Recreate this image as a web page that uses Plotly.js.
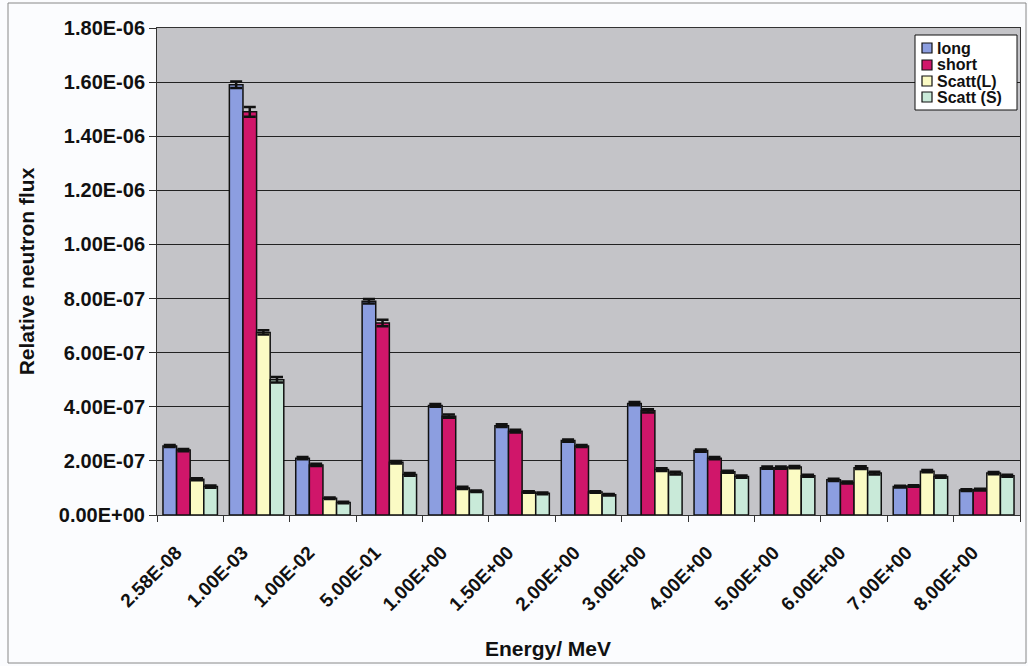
<!DOCTYPE html>
<html>
<head>
<meta charset="utf-8">
<script src="https://cdn.plot.ly/plotly-3.0.1.min.js"></script>
<style>
  html, body { margin: 0; padding: 0; background: #ffffff; }
  #chart { width: 1028px; height: 666px; }
</style>
</head>
<body>
<div id="chart"></div>
<script>
// Energy bins (MeV) used as categories
const energies = ["2.58E-08", "1.00E-03", "1.00E-02", "5.00E-01", "1.00E+00", "1.50E+00", "2.00E+00",
                  "3.00E+00", "4.00E+00", "5.00E+00", "6.00E+00", "7.00E+00", "8.00E+00"];

// Relative neutron flux per bin
const longFlux   = [2.55e-7, 1.59e-6, 2.10e-7, 7.90e-7, 4.05e-7, 3.30e-7, 2.75e-7, 4.12e-7, 2.38e-7, 1.75e-7, 1.30e-7, 1.05e-7, 0.92e-7];
const shortFlux  = [2.40e-7, 1.49e-6, 1.85e-7, 7.10e-7, 3.65e-7, 3.10e-7, 2.55e-7, 3.85e-7, 2.10e-7, 1.75e-7, 1.20e-7, 1.07e-7, 0.94e-7];
const scattLFlux = [1.32e-7, 6.75e-7, 6.2e-8, 1.95e-7, 1.00e-7, 8.5e-8, 8.5e-8, 1.68e-7, 1.60e-7, 1.77e-7, 1.75e-7, 1.62e-7, 1.55e-7];
const scattSFlux = [1.05e-7, 5.00e-7, 4.6e-8, 1.50e-7, 8.8e-8, 8.0e-8, 7.5e-8, 1.55e-7, 1.42e-7, 1.45e-7, 1.55e-7, 1.42e-7, 1.45e-7];

// Statistical uncertainties
const longErr   = [4e-9, 1.2e-8, 4e-9, 8e-9, 5e-9, 5e-9, 4e-9, 6e-9, 4e-9, 4e-9, 4e-9, 3e-9, 3e-9];
const shortErr  = [4e-9, 1.8e-8, 4e-9, 1.2e-8, 6e-9, 5e-9, 4e-9, 6e-9, 4e-9, 4e-9, 4e-9, 3e-9, 3e-9];
const scattLErr = [4e-9, 8e-9, 3e-9, 5e-9, 4e-9, 3e-9, 3e-9, 5e-9, 4e-9, 4e-9, 5e-9, 4e-9, 4e-9];
const scattSErr = [4e-9, 1.0e-8, 3e-9, 5e-9, 3e-9, 3e-9, 3e-9, 5e-9, 4e-9, 4e-9, 5e-9, 4e-9, 4e-9];

// Y-axis tick positions and their labels
const yTickVals = [0, 2e-7, 4e-7, 6e-7, 8e-7, 1e-6, 1.2e-6, 1.4e-6, 1.6e-6, 1.8e-6];
const yTickText = ["0.00E+00", "2.00E-07", "4.00E-07", "6.00E-07", "8.00E-07",
                   "1.00E-06", "1.20E-06", "1.40E-06", "1.60E-06", "1.80E-06"];

const seriesNames = ["long", "short", "Scatt(L)", "Scatt (S)"];
const seriesColors = ["#8c9ee0", "#d0166a", "#fbfbc4", "#c9ead9"];

function series(i, y, err) {
  return {
    type: "bar",
    name: seriesNames[i],
    x: energies,
    y: y,
    marker: { color: seriesColors[i], line: { color: "#111111", width: 1.5 } },
    error_y: { type: "data", array: err, visible: true, color: "#111111", thickness: 2.5, width: 6 }
  };
}

const data = [
  series(0, longFlux, longErr),
  series(1, shortFlux, shortErr),
  series(2, scattLFlux, scattLErr),
  series(3, scattSFlux, scattSErr)
];

const fontFam = "Liberation Sans, Arial, sans-serif";
const boldFont = (size) => ({ family: fontFam, size: size, weight: "bold", color: "#111111" });

// Plot area in pixels, used to place the compact legend box
const plotL = 157, plotR = 1020, plotT = 28, plotB = 515;
const px = (x) => (x - plotL) / (plotR - plotL);
const py = (y) => (plotB - y) / (plotB - plotT);

const shapes = [
  // outer chart frame
  {
    type: "rect", xref: "paper", yref: "paper",
    x0: px(8), x1: px(1026), y0: py(663), y1: py(3),
    line: { color: "#888888", width: 1 }, fillcolor: "rgba(0,0,0,0)", layer: "below"
  },
  // legend box
  {
    type: "rect", xref: "paper", yref: "paper",
    x0: px(915), x1: px(1017), y0: py(110), y1: py(35),
    line: { color: "#111111", width: 1 }, fillcolor: "#ffffff", layer: "above"
  }
];
const annotations = [
  {
    text: "Energy/ MeV", xref: "paper", yref: "paper",
    x: px(548), y: py(648),
    xanchor: "center", yanchor: "middle", showarrow: false,
    font: boldFont(21)
  }
];
const legendRows = [48, 65, 81, 97];
seriesNames.forEach((name, i) => {
  const cy = legendRows[i];
  shapes.push({
    type: "rect", xref: "paper", yref: "paper",
    x0: px(922), x1: px(932), y0: py(cy + 5), y1: py(cy - 5),
    line: { color: "#111111", width: 1.2 }, fillcolor: seriesColors[i], layer: "above"
  });
  annotations.push({
    text: name, xref: "paper", yref: "paper",
    x: px(935), y: py(cy),
    xanchor: "left", yanchor: "middle", showarrow: false,
    font: boldFont(16)
  });
});

const layout = {
  width: 1028,
  height: 666,
  margin: { l: plotL, r: 1028 - plotR, t: plotT, b: 666 - plotB },
  paper_bgcolor: "#fbfcfe",
  plot_bgcolor: "#c4c4c8",
  barmode: "group",
  bargap: 0.18,
  bargroupgap: 0,
  font: { family: fontFam, color: "#111111" },
  showlegend: false,
  xaxis: {
    type: "category",
    tickangle: -45,
    tickson: "boundaries",
    ticks: "outside", ticklen: 6, tickcolor: "#333333",
    tickfont: boldFont(19),
    ticklabelstandoff: 18,
    ticklabelshift: -14,
    showline: true, linecolor: "#333333", linewidth: 1, mirror: true
  },
  yaxis: {
    range: [0, 1.8e-6],
    tickvals: yTickVals,
    ticktext: yTickText,
    ticks: "outside", ticklen: 7, tickcolor: "#333333",
    tickfont: boldFont(20),
    showgrid: true, gridcolor: "#222222", gridwidth: 1,
    zeroline: false,
    showline: true, linecolor: "#333333", linewidth: 1, mirror: true,
    title: { text: "Relative neutron flux", font: boldFont(21), standoff: 18 }
  },
  annotations: annotations,
  shapes: shapes
};

Plotly.newPlot("chart", data, layout, { displayModeBar: false, staticPlot: true });
</script>
</body>
</html>
